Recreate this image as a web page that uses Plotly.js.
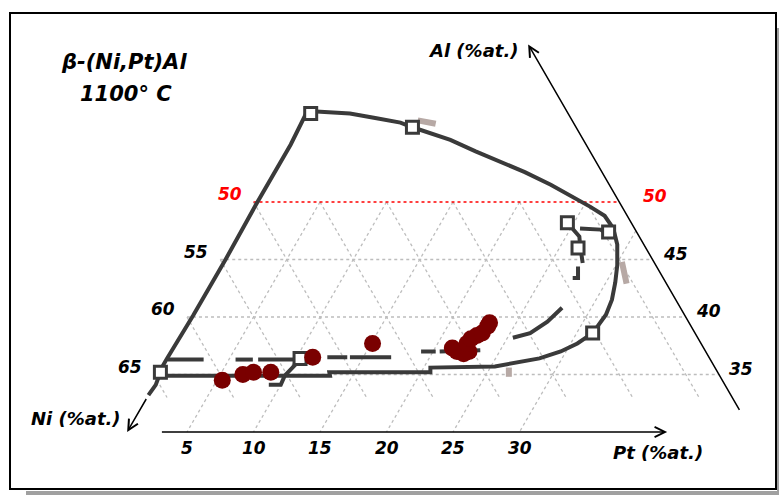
<!DOCTYPE html>
<html><head><meta charset="utf-8">
<script src="https://cdn.plot.ly/plotly-3.0.1.min.js"></script>
<style>html,body{margin:0;padding:0;background:#fff}#chart{width:779px;height:497px}</style>
</head><body><div id="chart"></div>
<script>
// All compositions in at.% : Pt and Al (Ni = 100 - Pt - Al)
// outer beta-phase boundary
const boundaryPt = [0.5,0.6,0.4,0.3,0.3,0.4,0.4,0.3,0.3,0.1,0.45,3.4,5.5,7.6,8.7,10.3,12.1,14.5,16.8,19.1,21.6,23.5,25.5,27.0,28.2,29.2,30.1,30.7,31.2,31.4,31.3,31.2,30.5,29.6,28.3,27.0,25.3,20.5,20.7,13.1,13.3,0.9,0.4];
const boundaryAl = [33.2,34.1,35.2,35.8,36.4,40.1,45.0,49.8,55.0,57.8,57.9,57.7,57.3,56.9,56.5,56.0,55.4,54.4,53.5,52.6,51.5,50.6,49.6,48.8,47.7,46.3,44.5,43.0,41.5,40.2,39.1,38.6,37.7,37.0,36.4,36.1,35.7,35.6,35.2,35.2,34.9,34.9,35.2];
// inner dashed boundary (null = gap)
const innerPt = [0.4,3.1,null,5.5,6.8,null,7.2,9.8,10.3,null,12.3,13.8,null,14.0,17.1,null,19.1,20.2,null,20.5,23.5,null,25.4,26.5,27.3,27.8];
const innerAl = [36.3,36.3,null,36.3,36.3,null,36.3,36.3,36.4,null,36.5,36.5,null,36.5,36.5,null,37.0,37.0,null,37.0,37.1,null,38.2,38.6,39.6,40.8];
// short segments
const tiePt = [10.3,9.9,10.0,9.1];
const tieAl = [36.1,34.9,34.1,34.1];
const cornerPt = [24.5,26.0,26.4,27.2,27.4,null,27.2,27.7,27.3,null,25.7,27.3,28.4];
const cornerAl = [48.2,47.0,46.3,45.1,44.7,null,44.4,43.4,43.4,null,47.7,47.6,47.0];
// open square markers
const squarePt = [0.4,0.45,8.7,10.3,31.2,24.5,26.4,28.0];
const squareAl = [35.2,57.7,56.5,36.4,38.6,48.2,46.0,47.4];
// measured compositions (red dots)
const dotPt = [5.4,6.7,7.4,8.7,11.2,15.1,21.3,21.8,22.4,22.7,22.2,22.3,22.6,22.9,23.0,23.0];
const dotAl = [34.5,35.0,35.2,35.2,36.5,37.7,37.3,37.0,36.8,37.0,37.7,38.1,38.4,38.6,39.2,39.5];
// faint grey-brown marks
const faintPt = [8.8,10.3,null,30.3,31.6,null,26.4,26.8];
const faintAl = [57.1,56.8,null,44.8,42.9,null,35.6,34.8];
// grid & ticks
const alGrid = [35,40,45];
const alRed = 50;
const ptGrid = [5,10,15,20,25,30];
const niGrid = [25,30,35,40,45,50,55,60,65];
const niTicks = [50,55,60,65];
const alTicks = [50,45,40,35];
const ptTicks = [5,10,15,20,25,30];
const rightAxisNi = 22.5, alAxisFrom = 31.8, alAxisTo = 63.7;
const ptAxisAl = 30, ptAxisFrom = 3, ptAxisTo = 41.1;
const niArrowPt = 0.5, niArrowFrom = 33, niArrowTo = 30;
const ptGridBottom = 30, niGridBottom = 33;

function X(pt, al){ return (pt===null||al===null) ? null : pt + al/2; }
function mapX(pts, als){ return pts.map((p,i)=>X(p, als[i])); }

const DARK = '#3a3a3a';
const traces = [];
const gridStyle = {color:'#bdbdbd', width:1.3, dash:'dot'};
let gx=[], gy=[];
alGrid.forEach(al=>{ gx.push(X(0,al), X(100-rightAxisNi-al,al), null); gy.push(al,al,null); });
ptGrid.forEach(pt=>{ const top=Math.min(alRed,100-rightAxisNi-pt); gx.push(X(pt,top),X(pt,ptGridBottom),null); gy.push(top,ptGridBottom,null); });
niGrid.forEach(ni=>{ const top=Math.min(alRed,100-ni); gx.push(X(100-ni-top,top),X(100-ni-niGridBottom,niGridBottom),null); gy.push(top,niGridBottom,null); });
traces.push({x:gx,y:gy,mode:'lines',line:gridStyle,hoverinfo:'skip'});
traces.push({x:[X(0,alRed),X(100-rightAxisNi-alRed,alRed)],y:[alRed,alRed],mode:'lines',line:{color:'#ff0000',width:1.5,dash:'dot'},hoverinfo:'skip'});
traces.push({x:mapX(faintPt,faintAl),y:faintAl,mode:'lines',line:{color:'#b7a9a5',width:6},connectgaps:false,hoverinfo:'skip'});
traces.push({x:mapX(boundaryPt,boundaryAl),y:boundaryAl,mode:'lines',line:{color:DARK,width:4}});
traces.push({x:mapX(innerPt,innerAl),y:innerAl,mode:'lines',line:{color:DARK,width:4},connectgaps:false});
traces.push({x:mapX(tiePt,tieAl),y:tieAl,mode:'lines',line:{color:DARK,width:4}});
traces.push({x:mapX(cornerPt,cornerAl),y:cornerAl,mode:'lines',line:{color:DARK,width:4},connectgaps:false});
traces.push({x:mapX(squarePt,squareAl),y:squareAl,mode:'markers',marker:{symbol:'square',size:12,color:'#ffffff',line:{color:DARK,width:3}}});
traces.push({x:mapX(dotPt,dotAl),y:dotAl,mode:'markers',marker:{size:17,color:'#7a0000'}});

const numFont = {family:'DejaVu Sans', size:17, color:'#000', weight:'bold', style:'italic'};
const ann = [];
niTicks.forEach(n=>{ const al=100-n; ann.push({x:X(0,al),y:al,text:String(n),showarrow:false,xanchor:'right',yanchor:'middle',xshift:-10,yshift:8,font:Object.assign({},numFont,{color: n===alRed?'#ff0000':'#000'})}); });
alTicks.forEach(a=>{ ann.push({x:X(100-rightAxisNi-a,a),y:a,text:String(a),showarrow:false,xanchor:'left',yanchor:'middle',xshift:a===alRed?22:8,yshift:6,font:Object.assign({},numFont,{color: a===alRed?'#ff0000':'#000'})}); });
ptTicks.forEach(p=>{ ann.push({x:X(p,ptAxisAl),y:ptAxisAl,text:String(p),showarrow:false,xanchor:'center',yanchor:'middle',yshift:-16,font:numFont}); });
const arrowBase = {text:'',showarrow:true,arrowhead:5,arrowsize:1.35,arrowwidth:1.5,arrowcolor:'#000',axref:'x',ayref:'y',standoff:0,startstandoff:0};
ann.push(Object.assign({},arrowBase,{x:X(100-rightAxisNi-alAxisTo,alAxisTo),y:alAxisTo,ax:X(100-rightAxisNi-alAxisFrom,alAxisFrom),ay:alAxisFrom}));
ann.push(Object.assign({},arrowBase,{x:X(ptAxisTo,ptAxisAl),y:ptAxisAl,ax:X(ptAxisFrom,ptAxisAl),ay:ptAxisAl}));
ann.push(Object.assign({},arrowBase,{x:X(niArrowPt,niArrowTo),y:niArrowTo,ax:X(niArrowPt,niArrowFrom),ay:niArrowFrom}));
const tFont = {family:'DejaVu Sans', size:18, color:'#000', weight:'bold', style:'italic'};
const W=779,H=497;
function paperText(px,py,txt,font){ return {xref:'paper',yref:'paper',x:px/W,y:1-py/H,text:txt,showarrow:false,xanchor:'center',yanchor:'middle',font:font}; }
ann.push(paperText(473,50,'Al (%at.)',tFont));
ann.push(paperText(658,452,'Pt (%at.)',tFont));
ann.push(paperText(76,418,'Ni (%at.)',tFont));
const bigFont = {family:'DejaVu Sans', size:21, color:'#000', weight:'bold', style:'italic'};
ann.push(paperText(124,62,'β-(Ni,Pt)Al',bigFont));
ann.push(paperText(126,94,'1100° C',bigFont));

const shapes = [
  {type:'rect',xref:'paper',yref:'paper',x0:26/W,x1:779/W,y0:1-495/H,y1:1-491/H,fillcolor:'#a0a0a0',line:{width:0},layer:'below'},
  {type:'rect',xref:'paper',yref:'paper',x0:777/W,x1:779/W,y0:1-495/H,y1:1-28/H,fillcolor:'#a0a0a0',line:{width:0},layer:'below'},
  {type:'rect',xref:'paper',yref:'paper',x0:10/W,x1:776/W,y0:1-489/H,y1:1-13/H,fillcolor:'#ffffff',line:{color:'#000',width:2},layer:'below'}
];

const layout = {
  width:W,height:H,margin:{l:0,r:0,t:0,b:0},showlegend:false,
  paper_bgcolor:'#ffffff',plot_bgcolor:'rgba(0,0,0,0)',
  xaxis:{range:[79/13.3,(779+79)/13.3],visible:false,fixedrange:true},
  yaxis:{range:[50-(497-202)/11.5,50+202/11.5],visible:false,fixedrange:true},
  annotations:ann,shapes:shapes
};
Plotly.newPlot('chart',traces,layout,{staticPlot:true,displayModeBar:false});
</script></body></html>
